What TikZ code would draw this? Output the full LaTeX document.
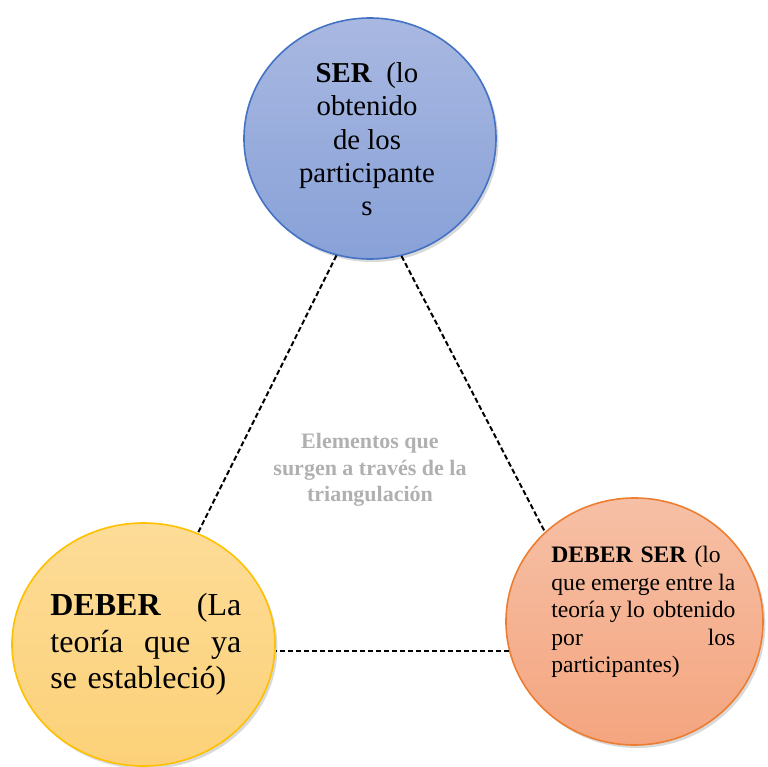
\documentclass[tikz,border=0pt]{standalone}
\usepackage{fontspec}
\setmainfont{Liberation Serif}
\usetikzlibrary{shapes.geometric,shadows}
\setlength{\parindent}{0pt}
\definecolor{serTop}{HTML}{A9B8E1}
\definecolor{serBot}{HTML}{88A1D8}
\definecolor{serLine}{HTML}{4472C4}
\definecolor{debTop}{HTML}{FDDC98}
\definecolor{debBot}{HTML}{FCD178}
\definecolor{debLine}{HTML}{FFC000}
\definecolor{dsTop}{HTML}{F6C0A6}
\definecolor{dsBot}{HTML}{F4A57F}
\definecolor{dsLine}{HTML}{ED7D31}
\definecolor{midgray}{HTML}{B0B0B0}
\begin{document}
\begin{tikzpicture}[x=0.5pt,y=-0.5pt,
  circ/.style={ellipse, inner sep=0pt, line width=0.8pt,
    drop shadow={shadow xshift=1.2pt, shadow yshift=-1.5pt, opacity=0.3}},
  conn/.style={draw=black, line width=1pt, dash pattern=on 2.6pt off 1.4pt},
  txt/.style={inner sep=0pt}]
\useasboundingbox (0,0) rectangle (768,767);

\node[circ, minimum width=126pt, minimum height=120.5pt, draw=serLine,
  top color=serTop, bottom color=serBot] (ser) at (370,138.5) {};
\node[circ, minimum width=131.5pt, minimum height=121.5pt, draw=debLine,
  top color=debTop, bottom color=debBot] (deb) at (143.5,644.5) {};
\node[circ, minimum width=128.5pt, minimum height=123.5pt, draw=dsLine,
  top color=dsTop, bottom color=dsBot] (ds) at (634.5,621.5) {};

\node[txt, font=\fontsize{14.4}{16.7}\selectfont, align=center, anchor=north]
  (sertext) at (367,62) {\textbf{SER}\ \ (lo\\obtenido\\de los\hspace*{17pt}\\participante\\s};
\node[txt, font=\fontsize{16}{18.3}\selectfont, text width=95.5pt, align=left, anchor=north west]
  (debtext) at (50,593) {\textbf{DEBER}\hfill(La\\teoría\hfill que\hfill ya\\se estableció)};
\node[txt, font=\fontsize{11.8}{13.75}\selectfont, text width=92pt, align=left, anchor=north west]
  (dstext) at (551,546) {\textbf{DEBER SER} (lo\\que\hfill emerge\hfill entre\hfill la\\teoría\hfill y\hfill lo obtenido\\por\hfill los\\participantes)};
\node[txt, font=\fontsize{11}{13.25}\selectfont\bfseries, text=midgray, align=center]
  (mid) at (370,470) {Elementos que\\surgen a través de la\\triangulación};

\draw[conn] (ser.254.8) -- (deb.64.6);
\draw[conn] (ser.285.3) -- (ds.135);
\draw[conn] (ds.193) -- (ds.193 -| deb.east);
\end{tikzpicture}
\end{document}
